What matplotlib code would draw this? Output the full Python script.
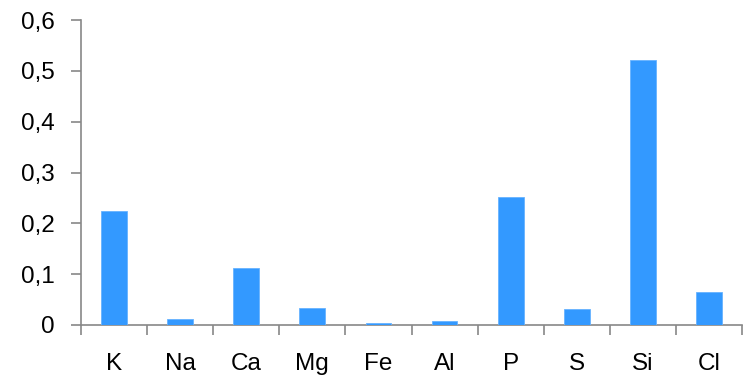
import matplotlib.pyplot as plt
import numpy as np

# element contents
elements = ['K', 'Na', 'Ca', 'Mg', 'Fe', 'Al', 'P', 'S', 'Si', 'Cl']
values = [0.224, 0.011, 0.113, 0.033, 0.003, 0.007, 0.251, 0.032, 0.522, 0.065]
y_ticks = [0, 0.1, 0.2, 0.3, 0.4, 0.5, 0.6]
y_tick_labels = ['0', '0,1', '0,2', '0,3', '0,4', '0,5', '0,6']

plt.rcParams['font.family'] = ['Liberation Sans', 'DejaVu Sans']

fig = plt.figure(figsize=(7.48, 3.79), dpi=100)
ax = fig.add_axes([0.1083, 0.1425, 0.8837, 0.8045])

x = np.arange(len(elements))
ax.bar(x, values, width=0.39, color='#3399FF', edgecolor='#66B3FF', linewidth=0.6, zorder=3)

ax.set_xlim(-0.5, len(elements) - 0.5)
ax.set_ylim(0, 0.6)

# y axis
ax.set_yticks(y_ticks)
ax.set_yticklabels(y_tick_labels, fontsize=17.5)
ax.tick_params(axis='y', direction='out', length=7, width=1.2, color='#888888', pad=12)

# x axis: tick marks between categories, labels at centres
ax.set_xticks(np.arange(len(elements) + 1) - 0.5)
ax.set_xticklabels([])
ax.set_xticks(x, minor=True)
ax.set_xticklabels(elements, minor=True, fontsize=17.5)
ax.tick_params(axis='x', which='major', direction='out', length=7, width=1.2, color='#888888')
ax.tick_params(axis='x', which='minor', length=0, pad=20)

for side in ['top', 'right']:
    ax.spines[side].set_visible(False)
for side in ['left', 'bottom']:
    ax.spines[side].set_color('#888888')
    ax.spines[side].set_linewidth(1.2)

fig.savefig('out.png', dpi=100)
